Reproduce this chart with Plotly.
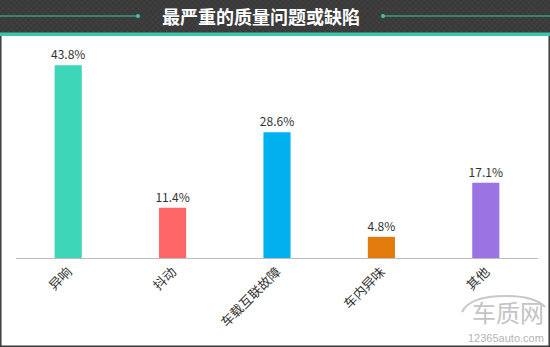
import plotly.graph_objects as go

categories = ["异响", "抖动", "车载互联故障", "车内异味", "其他"]
values = [43.8, 11.4, 28.6, 4.8, 17.1]
labels = ["43.8%", "11.4%", "28.6%", "4.8%", "17.1%"]
colors = ["#3dd6b8", "#ff6668", "#00b0ef", "#e27a0c", "#9c73e3"]

W, H = 550, 347
FONT = "Noto Sans CJK SC, Microsoft YaHei, sans-serif"

def py(p):
    return 1 - p / H

def px(p):
    return p / W

fig = go.Figure()

# textured header background (decoration)
fig.add_trace(go.Scatter(
    x=[0, 1, 1, 0, 0], y=[0, 0, 1, 1, 0], xaxis="x2", yaxis="y2",
    mode="none", fill="toself", fillcolor="#393939",
    fillpattern=dict(shape="x", size=4, solidity=0.35, fgcolor="#4d4d4d", bgcolor="#393939"),
    hoverinfo="skip",
))

fig.add_trace(go.Bar(
    x=categories, y=values, marker=dict(color=colors, line=dict(width=0)),
    text=labels, textposition="outside", cliponaxis=False, constraintext="none",
    textfont=dict(size=12, color="#333333", family=FONT),
    width=0.26,
))

shapes = [
    # teal strip
    dict(type="rect", xref="paper", yref="paper", x0=0, x1=1, y0=py(36), y1=py(32.5),
         fillcolor="#3ec4ad", line=dict(width=0)),
    # decorative lines
    dict(type="line", xref="paper", yref="paper", x0=0, x1=px(138), y0=py(16), y1=py(16),
         line=dict(color="#3ec4ad", width=1.2)),
    dict(type="line", xref="paper", yref="paper", x0=px(383), x1=1, y0=py(16), y1=py(16),
         line=dict(color="#3ec4ad", width=1.2)),
    dict(type="circle", xref="paper", yref="paper", x0=px(136), x1=px(140), y0=py(18), y1=py(14),
         fillcolor="#3ec4ad", line=dict(width=0)),
    dict(type="circle", xref="paper", yref="paper", x0=px(381), x1=px(385), y0=py(18), y1=py(14),
         fillcolor="#3ec4ad", line=dict(width=0)),
    # border of white area
    dict(type="line", xref="paper", yref="paper", x0=px(0.8), x1=px(0.8), y0=0, y1=py(36),
         line=dict(color="#3a3a3a", width=1.5)),
    dict(type="line", xref="paper", yref="paper", x0=px(549.2), x1=px(549.2), y0=0, y1=py(36),
         line=dict(color="#3a3a3a", width=1.5)),
    dict(type="line", xref="paper", yref="paper", x0=0, x1=1, y0=0.8 / H, y1=0.8 / H,
         line=dict(color="#3a3a3a", width=1.5)),
    # watermark car outline
    dict(type="path", xref="paper", yref="paper",
         path=f"M {px(462)} {py(312)} Q {px(470)} {py(296)} {px(505)} {py(296)} "
              f"Q {px(535)} {py(296)} {px(545)} {py(307)}",
         line=dict(color="#c8c8c8", width=2)),
]

annotations = [
    dict(text="<b>最严重的质量问题或缺陷</b>", xref="paper", yref="paper", x=px(261), y=py(16),
         xanchor="center", yanchor="middle", showarrow=False,
         font=dict(size=18, color="#ffffff", family=FONT)),
    dict(text="车质网", xref="paper", yref="paper", x=px(546), y=py(331),
         xanchor="right", yanchor="bottom", showarrow=False,
         font=dict(size=24, color="#c4c4c4", family=FONT)),
    dict(text="12365auto.com", xref="paper", yref="paper", x=px(546), y=py(346),
         xanchor="right", yanchor="bottom", showarrow=False,
         font=dict(size=11, color="#b4b4b4", family="Liberation Sans, Arial, sans-serif")),
]

fig.update_layout(
    width=W, height=H, autosize=False,
    margin=dict(l=0, r=0, t=0, b=0, pad=0),
    paper_bgcolor="#ffffff", plot_bgcolor="rgba(0,0,0,0)",
    showlegend=False,
    shapes=shapes, annotations=annotations,
    xaxis=dict(domain=[px(16), px(538)], automargin=False, tickangle=-45,
               showline=True, linecolor="#bdbdbd", linewidth=1, showgrid=False,
               ticks="", tickfont=dict(size=13, color="#333333", family=FONT)),
    yaxis=dict(domain=[py(258), py(38)], automargin=False, range=[0, 50],
               visible=False, showgrid=False, zeroline=False),
    xaxis2=dict(domain=[0, 1], range=[0, 1], visible=False, fixedrange=True, anchor="y2"),
    yaxis2=dict(domain=[py(33), 1], range=[0, 1], visible=False, fixedrange=True, anchor="x2"),
    bargap=0.74,
)

fig.write_html("out.html")
